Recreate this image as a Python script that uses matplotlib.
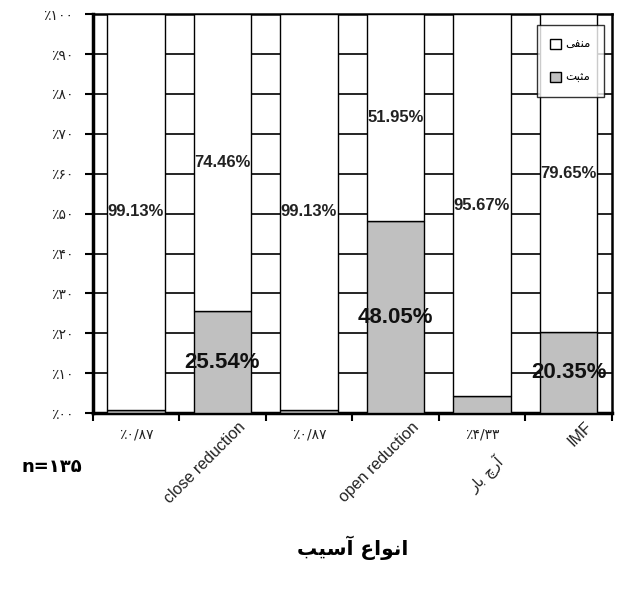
import numpy as np
import matplotlib.pyplot as plt

# --- data (percent) ---
categories = ['', 'close reduction', '', 'open reduction',
              '\u0631\uFE8E\uFE91 \u0686\u0631\u0622',   # آرچ بار (visual order)
              'IMF']
positive = [0.87, 25.54, 0.87, 48.05, 4.33, 20.35]
negative = [99.13, 74.46, 99.13, 51.95, 95.67, 79.65]
y_ticks = [0, 10, 20, 30, 40, 50, 60, 70, 80, 90, 100]

# Persian text already shaped in visual order
lbl_negative = '\uFEF0\uFED4\uFEE8\uFEE3'        # منفی
lbl_positive = '\uFE96\uFE92\uFE9C\uFEE3'        # مثبت
x_title = '\uFE90\uFEF4\uFEB3\uFE81 \uFEC9\uFE8D\uFEEE\uFEE7\uFE8D'  # انواع آسیب
n_value = 135

fa_digits = str.maketrans('0123456789', '\u06F0\u06F1\u06F2\u06F3\u06F4\u06F5\u06F6\u06F7\u06F8\u06F9')
def fa(s):
    return s.translate(fa_digits)

grey = '#c0c0c0'
fig = plt.figure(figsize=(6.18, 5.91), dpi=100)
ax = fig.add_axes([0.150, 0.301, 0.840, 0.675])

x = np.arange(len(positive))
w = 0.66
ax.bar(x, positive, w, color=grey, edgecolor='black', linewidth=1, label=lbl_positive, zorder=3)
ax.bar(x, negative, w, bottom=positive, color='white', edgecolor='black', linewidth=1,
       label=lbl_negative, zorder=3)

ax.set_xlim(-0.5, len(x) - 0.5)
ax.set_ylim(0, 100)
ax.set_yticks(y_ticks)
ax.set_yticklabels(['\u066A' + fa('%02d' % v) for v in y_ticks],
                   family='DejaVu Sans', fontsize=10, color='#222222')
ax.set_xticks(np.arange(len(x) + 1) - 0.5)
ax.set_xticklabels([])
ax.tick_params(axis='both', direction='out', length=6, width=1.5, color='black')
ax.tick_params(axis='y', pad=8)
ax.yaxis.grid(True, color='black', linewidth=1.2, zorder=0)
ax.set_axisbelow(True)
for s in ['left', 'bottom']:
    ax.spines[s].set_linewidth(2.5)
for s in ['top', 'right']:
    ax.spines[s].set_linewidth(1.8)

# value labels
for i in range(len(x)):
    ax.text(x[i], positive[i] + negative[i] / 2, '%.2f%%' % negative[i], ha='center', va='center',
            family='Liberation Sans', fontsize=12, fontweight='bold', color='#222222', zorder=5)
    if positive[i] > 10:
        ax.text(x[i], positive[i] / 2, '%.2f%%' % positive[i], ha='center', va='center',
                family='Liberation Sans', fontsize=16, fontweight='bold', color='#111111', zorder=5)
    else:
        ax.text(x[i], -3.5, '\u066A' + fa(('%.2f' % positive[i]).replace('.', '/')),
                ha='center', va='top', family='DejaVu Sans', fontsize=10, color='#222222')

# category labels (rotated)
for i, c in enumerate(categories):
    if not c:
        continue
    if c.isascii():
        ax.text(x[i] + 0.18, -1.5, c, rotation=45, ha='right', va='top', rotation_mode='anchor',
                family='Liberation Sans', fontsize=11.5, color='#222222')
    else:
        ax.text(x[i] + 0.15, -10.0, c, rotation=45, ha='right', va='top', rotation_mode='anchor',
                family='DejaVu Sans', fontsize=11, color='#222222')

fig.text(0.035, 0.209, 'n=' + fa(str(n_value)), family='DejaVu Sans',
         fontsize=13, fontweight='bold', ha='left', va='center')
fig.text(0.57, 0.073, x_title, family='DejaVu Sans', fontsize=14.5, fontweight='bold',
         ha='center', va='center')

h, l = ax.get_legend_handles_labels()
leg = ax.legend(h[::-1], l[::-1], loc='upper right',
                bbox_to_anchor=(0.996, 0.988), prop={'family': 'DejaVu Sans', 'size': 8.5},
                frameon=True, fancybox=False, edgecolor='black', handlelength=0.9,
                handleheight=0.9, labelspacing=1.7, borderpad=1.1, handletextpad=0.4)
leg.get_frame().set_linewidth(1.0)
leg.set_zorder(10)

fig.savefig('out.png', dpi=100)
